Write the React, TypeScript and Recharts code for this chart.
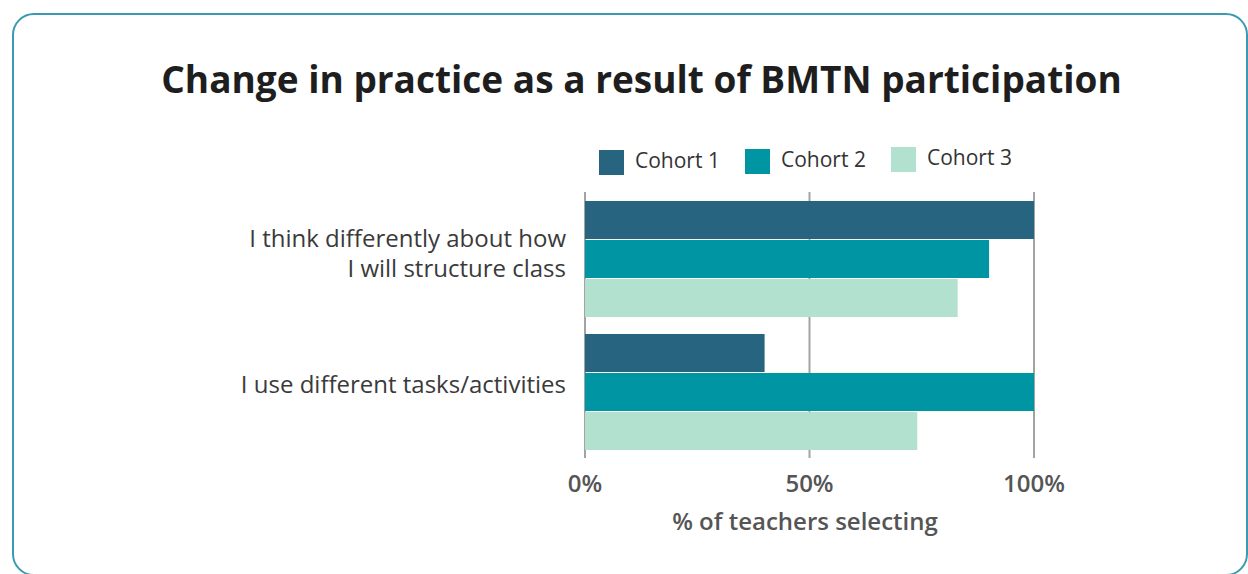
import { BarChart, Bar, XAxis, YAxis, CartesianGrid } from 'recharts';

const statements = ['I think differently about how\nI will structure class', 'I use different tasks/activities'];
const cohortNames = ['Cohort 1', 'Cohort 2', 'Cohort 3'];
const cohortKeys = ['c1', 'c2', 'c3'];
const cohortColors = ['#266480', '#0095a3', '#b2e1d0'];
const cohort1 = [100, 40];
const cohort2 = [90, 100];
const cohort3 = [83, 74];
const xTicks = [0, 50, 100];

const data = statements.map((s, i) => ({
  statement: s,
  c1: cohort1[i],
  c2: cohort2[i],
  c3: cohort3[i],
}));

const font = '"Open Sans", sans-serif';

function StatementTick(props: any) {
  const { x, y, payload } = props;
  const lines: string[] = String(payload.value).split('\n');
  const lineH = 30;
  const start = y - (lines.length > 1 ? 5 : 7) - ((lines.length - 1) * lineH) / 2;
  return (
    <text x={x} y={start} textAnchor="end" fill="#3a3a3a" fontSize={24} fontFamily={font}>
      {lines.map((l, i) => (
        <tspan key={i} x={x} y={start + i * lineH} dy="0.36em">
          {l}
        </tspan>
      ))}
    </text>
  );
}

export default function App() {
  return (
    <div style={{ position: 'absolute', left: 0, top: 0, width: 1248, height: 574, background: '#fff', overflow: 'hidden', fontFamily: font }}>
      <div
        style={{
          position: 'absolute',
          left: 12,
          top: 13,
          width: 1236,
          height: 563,
          border: '2px solid #3a9ab0',
          borderRadius: 22,
          boxSizing: 'border-box',
        }}
      />
      <div
        style={{
          position: 'absolute',
          left: 0,
          width: 1283,
          top: 54,
          textAlign: 'center',
          fontSize: 37,
          fontWeight: 700,
          color: '#1e1e1e',
          lineHeight: '50px',
          whiteSpace: 'nowrap',
        }}
      >
        Change in practice as a result of BMTN participation
      </div>
      {cohortNames.map((name, i) => (
        <div
          key={name}
          style={{ position: 'absolute', left: 599 + i * 146, top: 150 - i * 1.5, display: 'flex', alignItems: 'center' }}
        >
          <div style={{ width: 25, height: 25, background: cohortColors[i] }} />
          <span style={{ marginLeft: 11, fontSize: 21, color: '#333', lineHeight: '25px', position: 'relative', top: -2 }}>{name}</span>
        </div>
      ))}
      <div style={{ position: 'absolute', left: 0, top: 0 }}>
        <BarChart
          width={1248}
          height={574}
          data={data}
          layout="vertical"
          margin={{ top: 192, right: 214, bottom: 56, left: 0 }}
          barCategoryGap={9}
          barGap={1}
        >
          <CartesianGrid horizontal={false} vertical stroke="#a3a3a3" strokeWidth={2} />
          <XAxis
            type="number"
            domain={[0, 100]}
            ticks={xTicks}
            tickFormatter={(v) => `${v}%`}
            axisLine={false}
            tickLine={false}
            tickSize={0}
            tickMargin={17}
            height={60}
            tick={{ fontSize: 24, fill: '#555', fontWeight: 600, fontFamily: font }}
          />
          <YAxis
            type="category"
            dataKey="statement"
            width={585}
            axisLine={false}
            tickLine={false}
            tickSize={0}
            tickMargin={19}
            tick={<StatementTick />}
          />
          {cohortKeys.map((k, i) => (
            <Bar key={k} dataKey={k} name={cohortNames[i]} fill={cohortColors[i]} isAnimationActive={false} />
          ))}
        </BarChart>
      </div>
      <div
        style={{
          position: 'absolute',
          left: 605,
          width: 400,
          top: 506,
          textAlign: 'center',
          fontSize: 24,
          fontWeight: 600,
          color: '#555',
          lineHeight: '30px',
        }}
      >
        % of teachers selecting
      </div>
    </div>
  );
}
